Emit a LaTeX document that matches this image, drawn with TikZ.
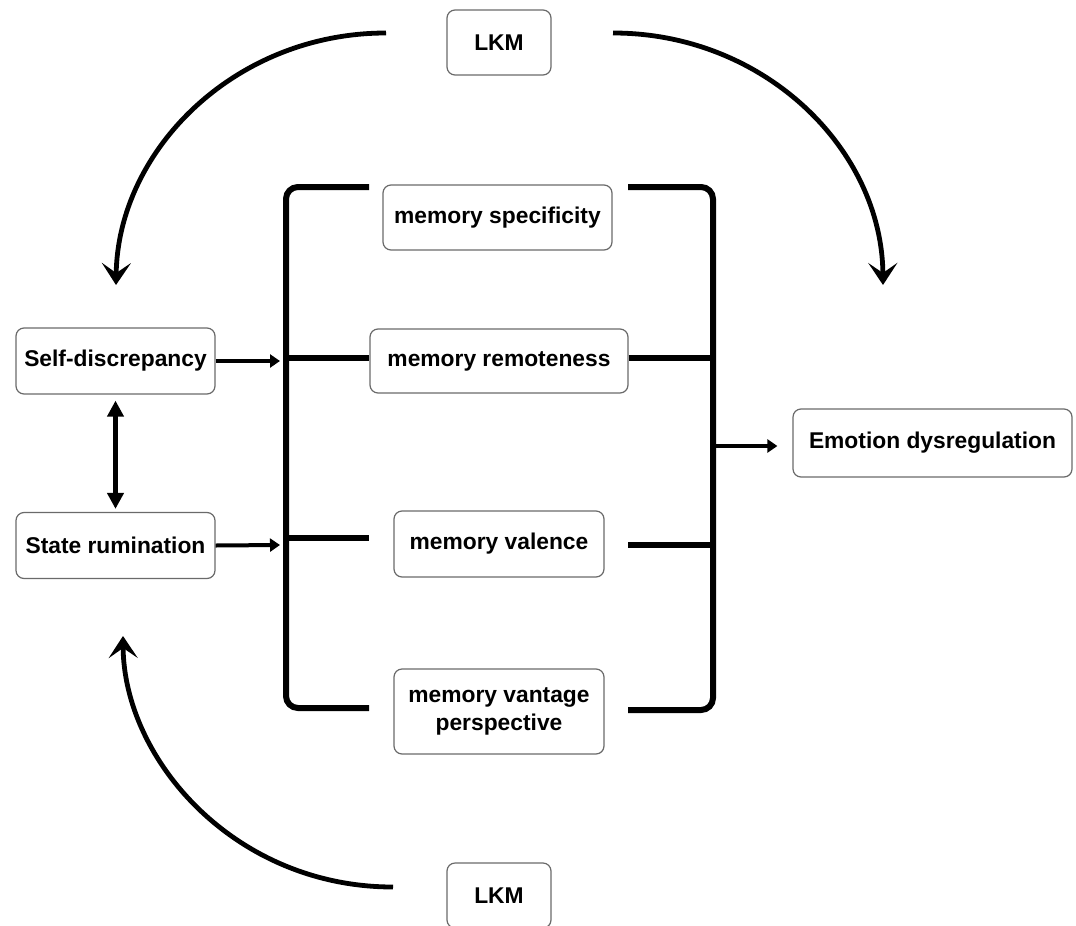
\documentclass[tikz,border=0pt]{standalone}
\usepackage{fontspec}
\setmainfont{Liberation Sans}
\usetikzlibrary{arrows.meta,positioning,calc}
\definecolor{ink}{HTML}{000000}
\definecolor{edge}{HTML}{6A6A6A}

\begin{document}
\begin{tikzpicture}[x=0.5pt,y=-0.5pt,
  box/.style={draw=edge,line width=0.6pt,rounded corners=4pt,fill=white,align=center,inner sep=0pt,
    font=\fontsize{11.4}{14}\selectfont\bfseries},
  link/.style={ink,line width=2pt,-{Triangle[length=5pt,width=6.5pt]}},
  bar/.style={ink,line width=3pt},
  loop/.style={ink,line width=2.4pt,-{Stealth[length=11pt,width=14.5pt,inset=5pt]}}]
  \useasboundingbox (0,0) rectangle (1076,926);
  \clip (0,0) rectangle (1076,926);
  % boxes
  \node[box,minimum width=52pt,minimum height=32.5pt] (lkmtop) at (499,42.5) {LKM};
  \node[box,minimum width=52pt,minimum height=32.5pt] (lkmbot) at (499,895.5) {LKM};
  \node[box,minimum width=99.5pt,minimum height=33pt] (selfd) at (115.5,361) {Self-discrepancy};
  \node[box,minimum width=99.5pt,minimum height=33pt] (rumi) at (115.5,545.5) {State rumination};
  \node[box,minimum width=114.5pt,minimum height=32.5pt] (spec) at (497.5,217.5) {memory specificity};
  \node[box,minimum width=129pt,minimum height=32pt] (remote) at (499,361) {memory remoteness};
  \node[box,minimum width=105pt,minimum height=33pt] (valence) at (499,544) {memory valence};
  \node[box,minimum width=105pt,minimum height=42.5pt] (vantage) at (499,711.5) {memory vantage\\perspective};
  \node[box,minimum width=139.5pt,minimum height=34pt] (emo) at (932.5,443) {Emotion dysregulation};
  % brackets round the memory boxes
  \draw[bar,rounded corners=6pt] (369,187) -- (286,187) -- (286,708) -- (369,708);
  \draw[bar,rounded corners=6pt] (628,187) -- (713,187) -- (713,710) -- (628,710);
  \draw[bar] (286,358) -- (remote.west |- 0,358);
  \draw[bar] (286,538) -- (369,538);
  \draw[bar] (remote.east |- 0,358) -- (713,358);
  \draw[bar] (628,545) -- (713,545);
  % arrows in and out
  \coordinate (in1) at (280,361);
  \coordinate (in2) at (280,545);
  \coordinate (out) at (715,446);
  \draw[link] (selfd.east) -- (in1);
  \draw[link] (rumi.east) -- (in2);
  \draw[link,shorten >=7.5pt] (out) -- (out -| emo.west);
  \draw[ink,line width=2.5pt,{Triangle[length=8pt,width=8pt]}-{Triangle[length=8pt,width=8pt]},
    shorten <=3pt,shorten >=1.5pt] (selfd.south) -- (rumi.north);
  % LKM loops
  \coordinate (a1) at (386,33);
  \coordinate (a2) at (116,285);
  \coordinate (b1) at (613,33);
  \coordinate (b2) at (883,285);
  \coordinate (c1) at (393,887);
  \coordinate (c2) at (123,636);
  \draw[loop] (a1) .. controls (235,33) and (118,150) .. (a2);
  \draw[loop] (b1) .. controls (765,33) and (882,150) .. (b2);
  \draw[loop] (c1) .. controls (235,887) and (124,760) .. (c2);
\end{tikzpicture}
\end{document}
